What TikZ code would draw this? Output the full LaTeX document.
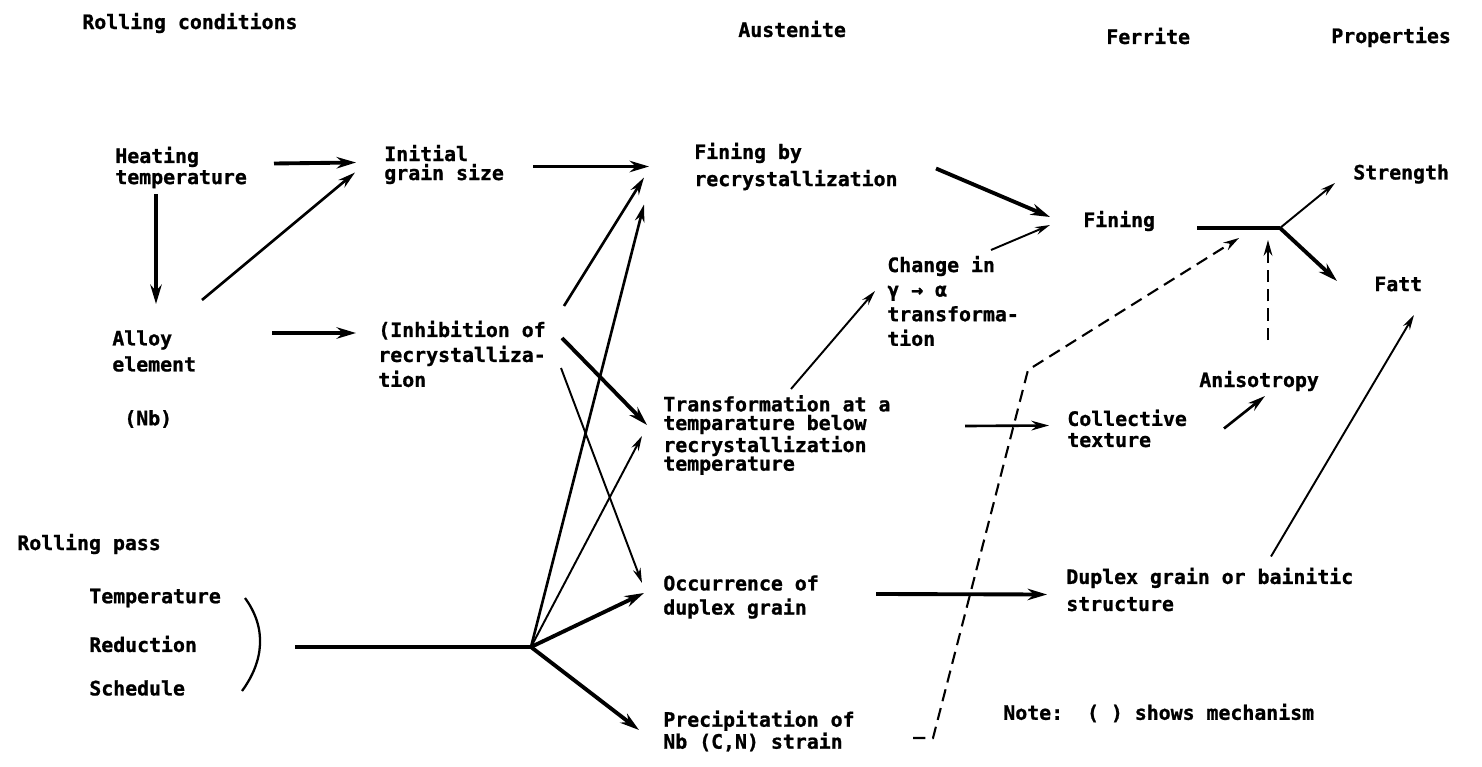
\documentclass[tikz,border=0pt]{standalone}
\usepackage{fontspec}
\newfontfamily\printfont[BoldFeatures={FakeBold=1}]{DejaVu Sans Mono}
\usetikzlibrary{arrows.meta}
\tikzset{>={Stealth[length=11pt,width=6.5pt]}}
\tikzset{txt/.style={font=\printfont\bfseries\fontsize{11.3}{#1}\selectfont,
    anchor=west, inner sep=0pt, align=left},
  txt/.default=14pt}
\tikzstyle{heavy}=[->,line width=2.2pt]
\tikzstyle{medium}=[-{Stealth[length=10pt,width=5.5pt]},line width=1.5pt]
\tikzstyle{light}=[-{Stealth[length=8.5pt,width=4.5pt]},line width=1.1pt]
\tikzstyle{link}=[line width=2.2pt]
\tikzstyle{mech}=[-{Stealth[length=9pt,width=5pt]},line width=1.2pt,dash pattern=on 7pt off 4pt]

\begin{document}
\begin{tikzpicture}[x=0.02cm,y=-0.02cm]
  \useasboundingbox (0,0) rectangle (1482,767);
  % column heads
  \node[txt] (hcond) at (82,23) {Rolling conditions};
  \node[txt] (haus) at (738,29) {Austenite};
  \node[txt] (hfer) at (1106,36) {Ferrite};
  \node[txt] (hprop) at (1331,37) {Properties};

  % rolling conditions
  \node[txt=12pt] (heat) at (115,167.5) {Heating\\temperature};
  \node[txt=14.8pt] (alloy) at (112,351) {Alloy\\element};
  \node[txt] (nb) at (124,419) {(Nb)};
  \node[txt] (pass) at (17,544) {Rolling pass};
  \node[txt] (temp) at (89,598) {Temperature};
  \node[txt] (red) at (89,644) {Reduction};
  \node[txt] (sched) at (89,688) {Schedule};

  % austenite
  \node[txt=10.8pt] (init) at (384,164.5) {Initial\\grain size};
  \node[txt=14.2pt] (inhib) at (378,354) {(Inhibition of\\recrystalliza-\\tion};
  \node[txt=15.4pt] (finerex) at (694,166.5) {Fining by\\recrystallization};
  \node[txt=10.6pt] (trans) at (663,435) {Transformation at a\\temparature below\\recrystallization\\temperature};
  \node[txt=13.7pt] (occ) at (663,597) {Occurrence of\\duplex grain};
  \node[txt=12.5pt] (prec) at (663,731) {Precipitation of\\Nb (C,N) strain};
  \node[txt=14pt] (change) at (887,301) {Change in\\γ → α\\transforma-\\tion};

  % ferrite and properties
  \node[txt] (fining) at (1083,221) {Fining};
  \node[txt=12pt] (coll) at (1067,428.5) {Collective\\texture};
  \node[txt=15.4pt] (duplex) at (1066,589.5) {Duplex grain or bainitic\\structure};
  \node[txt] (anis) at (1199,381) {Anisotropy};
  \node[txt] (strength) at (1353,174) {Strength};
  \node[txt] (fatt) at (1374,284) {Fatt};
  \node[txt] (note) at (1003,713) {Note:\ \ ( ) shows mechanism};

  \coordinate (J) at (531,647);
  \coordinate (fork) at (1280,228);
  \coordinate (kink) at (1028,370);

  % heating and alloy
  \draw[heavy] ([shift={(159,-4)}]heat.west) -- ([shift={(-28,-2)}]init.west);
  \draw[heavy] ([shift={(41,27)}]heat.west) -- ([shift={(44,-47)}]alloy.west);
  \draw[medium] ([shift={(90,-51)}]alloy.west) -- ([shift={(-29,8)}]init.west);
  \draw[heavy] ([shift={(160,-18)}]alloy.west) -- ([shift={(-22,-21)}]inhib.west);
  \draw[heavy] ([shift={(149,2)}]init.west) -- ([shift={(-45,0)}]finerex.west);
  \draw[medium] ([shift={(186,-48)}]inhib.west) -- ([shift={(-50,11)}]finerex.west);
  \draw[heavy] ([shift={(184,-16)}]inhib.west) -- ([shift={(-16,-10)}]trans.west);
  \draw[light] ([shift={(183,14)}]inhib.west) -- ([shift={(-21,-14)}]occ.west);

  % rolling pass bracket and fan
  \draw[line width=1.3pt] ([shift={(156,0)}]temp.west) .. controls +(22,30) and +(22,-30) .. ([shift={(153,3)}]sched.west);
  \draw[link] ([shift={(206,3)}]red.west) -- (J);
  \draw[medium] (J) -- ([shift={(-50,38)}]finerex.west);
  \draw[light] (J) -- ([shift={(-21,1)}]trans.west);
  \draw[heavy] (J) -- ([shift={(-19,-4)}]occ.west);
  \draw[heavy] (J) -- ([shift={(-24,-1)}]prec.west);

  % austenite to ferrite
  \draw[heavy] ([shift={(242,2)}]finerex.west) -- ([shift={(-33,-4)}]fining.west);
  \draw[light] ([shift={(104,-51)}]change.west) -- ([shift={(-33,4)}]fining.west);
  \draw[light] ([shift={(128,-46)}]trans.west) -- ([shift={(-12,-10)}]change.west);
  \draw[medium] ([shift={(302,-9)}]trans.west) -- ([shift={(-18,-3)}]coll.west);
  \draw[heavy] ([shift={(213,-3)}]occ.west) -- ([shift={(-19,5)}]duplex.west);

  % ferrite to properties
  \draw[link] ([shift={(114,7)}]fining.west) -- (fork);
  \draw[light] (fork) -- ([shift={(-18,9)}]strength.west);
  \draw[heavy] (fork) -- ([shift={(-37,-3)}]fatt.west);
  \draw[medium] ([shift={(157,0)}]coll.west) -- ([shift={(66,15)}]anis.west);
  \draw[mech] ([shift={(69,-41)}]anis.west) -- ([shift={(-12,12)}]fork);
  \draw[light] ([shift={(205,-33)}]duplex.west) -- ([shift={(40,31)}]fatt.west);
  \draw[mech] ([shift={(250,7)}]prec.west) -- ++(20,0) -- (kink) -- ([shift={(-41,10)}]fork);
\end{tikzpicture}
\end{document}
